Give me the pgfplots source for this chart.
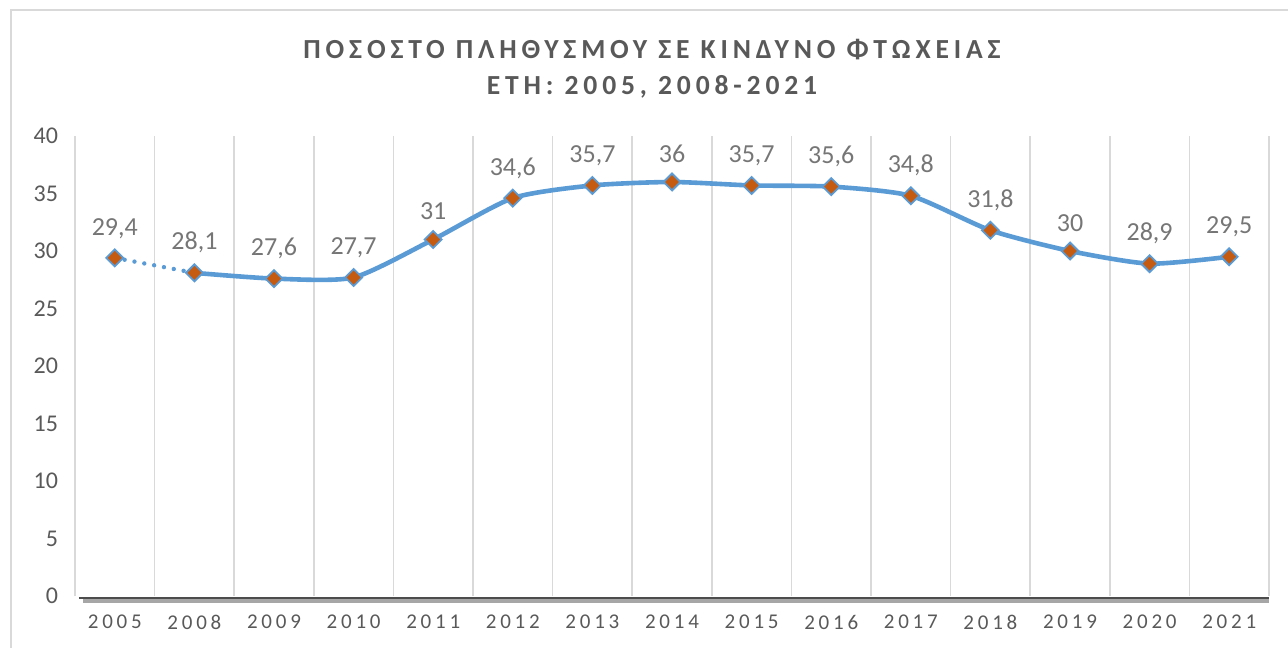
\documentclass[border=0pt]{standalone}
\usepackage{pgfplots}
\pgfplotsset{compat=1.18}
\usepackage{fontspec}
\setmainfont{Carlito}
\newfontfamily\titlefont[LetterSpace=17.5]{Carlito}
\newfontfamily\xfont[LetterSpace=18]{Carlito}
\definecolor{lineblue}{RGB}{91,155,213}
\definecolor{markorange}{RGB}{197,90,17}
\definecolor{txtgray}{RGB}{89,89,89}
\definecolor{lblgray}{RGB}{118,118,118}
\definecolor{gridgray}{RGB}{217,217,217}

\pgfplotstableread{
x y
0 29.4
1 28.1
2 27.6
3 27.7
4 31
5 34.6
6 35.7
7 36
8 35.7
9 35.6
10 34.8
11 31.8
12 30
13 28.9
14 29.5
}\poverty

\begin{document}
\begin{tikzpicture}
\path[use as bounding box] (0,0) rectangle (644pt,324pt);
\draw[gridgray, line width=1pt] (5.5pt,0) -- (5.5pt,319pt) -- (644pt,319pt);
\node[txtgray, align=center, font=\titlefont\fontsize{13.8}{16}\selectfont\bfseries] at (326pt,299pt) {ΠΟΣΟΣΤΟ ΠΛΗΘΥΣΜΟΥ ΣΕ ΚΙΝΔΥΝΟ ΦΤΩΧΕΙΑΣ};
\node[txtgray, align=center, font=\titlefont\fontsize{13.8}{16}\selectfont\bfseries] at (326pt,280.5pt) {ΕΤΗ: 2005, 2008-2021};
\begin{axis}[
    at={(37.5pt,26pt)}, anchor=south west,
    scale only axis,
    width=597pt, height=230pt,
    xmin=-0.5, xmax=14.5,
    ymin=0, ymax=40,
    xtick={0,...,14},
    xticklabels={2005,2008,2009,2010,2011,2012,2013,2014,2015,2016,2017,2018,2019,2020,2021},
    minor xtick={-0.5,0.5,...,14.5},
    minor x grid style={gridgray, line width=0.8pt},
    xminorgrids=true,
    ytick={0,5,...,40},
    major tick length=0pt, minor tick length=0pt,
    axis line style={draw=none},
    x tick label style={font=\xfont\fontsize{10.5}{12}\selectfont, text=txtgray, yshift=-6pt},
    y tick label style={font=\fontsize{12}{14}\selectfont, text=txtgray, xshift=-5pt},
    /pgf/number format/assume math mode=true,
    /pgf/number format/use comma,
    clip=false,
]
\draw[black!35, line width=2.5pt] (axis cs:-0.4,-0.35) -- (axis cs:14.5,-0.35);
\draw[black!70, line width=1pt] (axis cs:-0.45,-0.15) -- (axis cs:14.5,-0.15);
\addplot[lineblue, line width=2.2pt, line cap=round, dash pattern=on 0pt off 5pt] coordinates {(0,29.4) (1,28.1)};
\addplot[lineblue, line width=2.3pt, smooth, tension=0.4, skip coords between index={0}{1}] table[x=x,y=y] {\poverty};
\addplot[only marks, mark=square*, mark size=3pt,
    mark options={fill=markorange, draw=lineblue, line width=0.9pt, rotate=45},
    nodes near coords,
    nodes near coords style={font=\fontsize{13}{15}\selectfont, text=lblgray, yshift=6pt}]
    table[x=x,y=y] {\poverty};
\end{axis}
\end{tikzpicture}
\end{document}
